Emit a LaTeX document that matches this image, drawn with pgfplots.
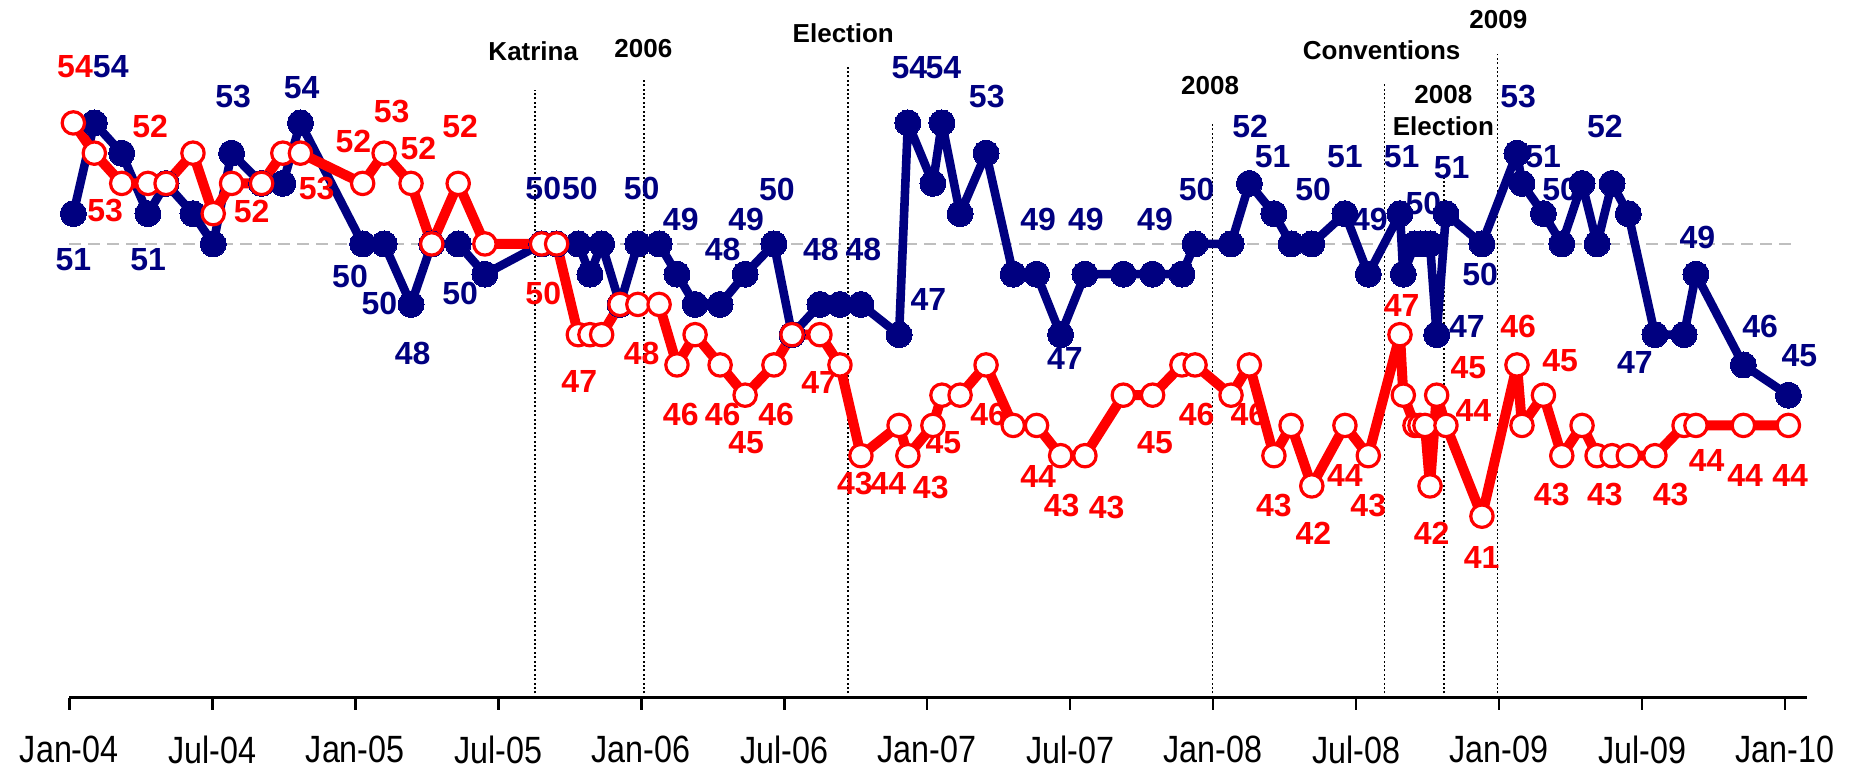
\documentclass[border=0pt]{standalone}
\usepackage{fontspec}
\setmainfont{Liberation Sans}
\newfontfamily\narrowfont[FakeStretch=0.85]{Liberation Sans}
\usepackage{pgfplots}
\usepackage{pgfplotstable}
\pgfplotsset{compat=1.18}
\definecolor{dem}{RGB}{0,0,128}
\definecolor{rep}{RGB}{255,0,0}
\definecolor{ref50}{RGB}{191,191,191}

\pgfplotstableread{
m B R
0.17 51 54
1.05 54 53
2.20 53 52
3.30 51 52
4.06 52 52
5.19 51 53
6.04 50 51
6.81 53 52
8.07 52 52
8.96 52 53
9.70 54 53
12.31 50 52
13.21 50 53
14.34 48 52
15.21 50 50
16.32 50 52
17.44 49 50
19.82 50 50
20.45 50 50
21.36 50 47
21.85 49 47
22.34 50 47
23.11 48 48
23.86 50 48
24.75 50 48
25.50 49 46
26.26 48 47
27.31 48 46
28.36 49 45
29.57 50 46
30.33 47 47
31.50 48 47
32.34 48 46
33.22 48 43
34.82 47 44
35.19 54 43
36.24 52 44
36.62 54 45
37.38 51 45
38.47 53 46
39.61 49 44
40.59 49 44
41.60 47 43
42.62 49 43
44.23 49 45
45.46 49 45
46.69 49 46
47.24 50 46
48.75 50 45
49.52 52 46
50.55 51 43
51.27 50 44
52.14 50 42
53.53 51 44
54.51 49 43
55.84 51 47
55.98 49 45
56.47 50 44
56.68 50 44
56.89 50 44
57.10 50 42
57.38 47 45
57.77 51 44
59.28 50 41
60.75 53 46
60.96 52 44
61.86 51 45
62.63 50 43
63.48 52 44
64.11 50 43
64.74 52 43
65.42 51 43
66.54 47 43
67.76 47 44
68.26 49 44
70.25 46 44
72.14 45 44
}\polls

\tikzset{lab/.style={font=\bfseries\fontsize{16}{18}\selectfont, inner sep=0pt},
  ev/.style={font=\bfseries\fontsize{13}{16}\selectfont, inner sep=0pt, align=center},
  evline/.style={black, line width=0.8pt, dash pattern=on 1pt off 1.2pt}}
\newcommand\bl[3]{\node[lab, text=dem] at (axis cs:#1,#2) {#3};}
\newcommand\rl[3]{\node[lab, text=rep] at (axis cs:#1,#2) {#3};}
\newcommand\evl[2]{\draw[evline] (axis cs:#1,35) -- (axis cs:#1,#2);}

\begin{document}
\begin{tikzpicture}
\path[use as bounding box] (0,0) rectangle (931pt,384pt);
\begin{axis}[
  at={(34.65pt,35.15pt)}, anchor=south west,
  scale only axis, width=868.6pt, height=347.9pt,
  xmin=0, xmax=72.9, ymin=35, ymax=58,
  axis x line=bottom, axis y line=none,
  x axis line style={-, line width=1.3pt, black},
  xtick={0,6,...,72},
  xticklabels={Jan-04,Jul-04,Jan-05,Jul-05,Jan-06,Jul-06,Jan-07,Jul-07,Jan-08,Jul-08,Jan-09,Jul-09,Jan-10},
  xtick align=outside, major tick length=6pt,
  xtick style={line width=1.3pt, black},
  xticklabel style={font=\narrowfont\fontsize{19}{21}\selectfont, anchor=north, yshift=-9.5pt},
  clip=false,
]
\addplot[ref50, line width=0.6pt, dash pattern=on 6pt off 3.5pt, no marks] coordinates {(0,50) (72.5,50)};
\evl{19.54}{55.08}
\evl{24.12}{55.45}
\evl{32.68}{55.94}
\evl{47.97}{54.0}
\evl{55.19}{55.35}
\evl{57.69}{52.28}
\evl{59.93}{56.27}

\addplot[dem, line width=4.3pt, line join=round, mark=*, mark size=6.5pt,
  mark options={fill=dem, draw=dem, line width=0pt}] table[x=m, y=B] {\polls};
\addplot[rep, line width=5pt, line join=round, mark=*, mark size=5.6pt,
  mark options={fill=white, draw=rep, line width=1.6pt}] table[x=m, y=R] {\polls};

\node[ev] at (axis cs:19.47,56.36) {Katrina};
\node[ev] at (axis cs:24.09,56.47) {2006};
\node[ev] at (axis cs:32.48,56.95) {Election};
\node[ev] at (axis cs:47.87,55.22) {2008};
\node[ev] at (axis cs:55.07,56.41) {Conventions};
\node[ev] at (axis cs:57.66,54.40) {2008\\Election};
\node[ev] at (axis cs:59.97,57.42) {2009};

\bl{0.17}{49.47}{51}
\bl{1.74}{55.86}{54}
\bl{3.31}{49.47}{51}
\bl{6.88}{54.87}{53}
\bl{9.75}{55.15}{54}
\bl{11.78}{48.92}{50}
\bl{13.01}{48.04}{50}
\bl{14.41}{46.39}{48}
\bl{16.40}{48.35}{50}
\bl{19.89}{51.84}{50}
\bl{21.43}{51.84}{50}
\bl{24.02}{51.84}{50}
\bl{25.66}{50.81}{49}
\bl{27.42}{49.80}{48}
\bl{28.40}{50.81}{49}
\bl{29.69}{51.81}{50}
\bl{31.54}{49.80}{48}
\bl{33.32}{49.80}{48}
\bl{35.25}{55.82}{54}
\bl{36.68}{55.82}{54}
\bl{36.05}{48.15}{47}
\bl{38.50}{54.88}{53}
\bl{40.66}{50.81}{49}
\bl{41.78}{46.20}{47}
\bl{42.66}{50.81}{49}
\bl{45.56}{50.81}{49}
\bl{47.31}{51.81}{50}
\bl{49.55}{53.87}{52}
\bl{50.50}{52.87}{51}
\bl{52.20}{51.81}{50}
\bl{53.53}{52.87}{51}
\bl{54.58}{50.81}{49}
\bl{55.91}{52.87}{51}
\bl{56.82}{51.34}{50}
\bl{58.01}{52.52}{51}
\bl{58.65}{47.26}{47}
\bl{59.20}{48.98}{50}
\bl{60.80}{54.88}{53}
\bl{61.85}{52.87}{51}
\bl{62.56}{51.81}{50}
\bl{64.44}{53.87}{52}
\bl{65.70}{46.08}{47}
\bl{68.32}{50.21}{49}
\bl{70.95}{47.26}{46}
\bl{72.60}{46.32}{45}

\rl{0.24}{55.86}{54}
\rl{1.50}{51.12}{53}
\rl{3.39}{53.88}{52}
\rl{7.65}{51.07}{52}
\rl{10.38}{51.84}{53}
\rl{11.92}{53.38}{52}
\rl{13.53}{54.37}{53}
\rl{14.65}{53.16}{52}
\rl{16.40}{53.88}{52}
\rl{19.89}{48.37}{50}
\rl{21.40}{45.45}{47}
\rl{24.02}{46.39}{48}
\rl{25.66}{44.37}{46}
\rl{27.42}{44.37}{46}
\rl{28.40}{43.43}{45}
\rl{29.66}{44.37}{46}
\rl{31.47}{45.43}{47}
\rl{32.97}{42.07}{43}
\rl{34.37}{42.07}{44}
\rl{36.15}{41.95}{43}
\rl{36.68}{43.43}{45}
\rl{38.56}{44.37}{46}
\rl{40.66}{42.30}{44}
\rl{41.64}{41.36}{43}
\rl{43.53}{41.30}{43}
\rl{45.56}{43.43}{45}
\rl{47.31}{44.37}{46}
\rl{49.48}{44.37}{46}
\rl{50.55}{41.36}{43}
\rl{52.21}{40.42}{42}
\rl{53.53}{42.36}{44}
\rl{54.51}{41.36}{43}
\rl{55.91}{47.97}{47}
\rl{57.17}{40.42}{42}
\rl{58.71}{45.90}{45}
\rl{58.92}{44.49}{44}
\rl{59.27}{39.65}{41}
\rl{60.80}{47.26}{46}
\rl{62.56}{46.14}{45}
\rl{62.21}{41.72}{43}
\rl{64.44}{41.72}{43}
\rl{67.20}{41.72}{43}
\rl{68.71}{42.84}{44}
\rl{70.32}{42.36}{44}
\rl{72.21}{42.36}{44}
\end{axis}
\end{tikzpicture}
\end{document}
